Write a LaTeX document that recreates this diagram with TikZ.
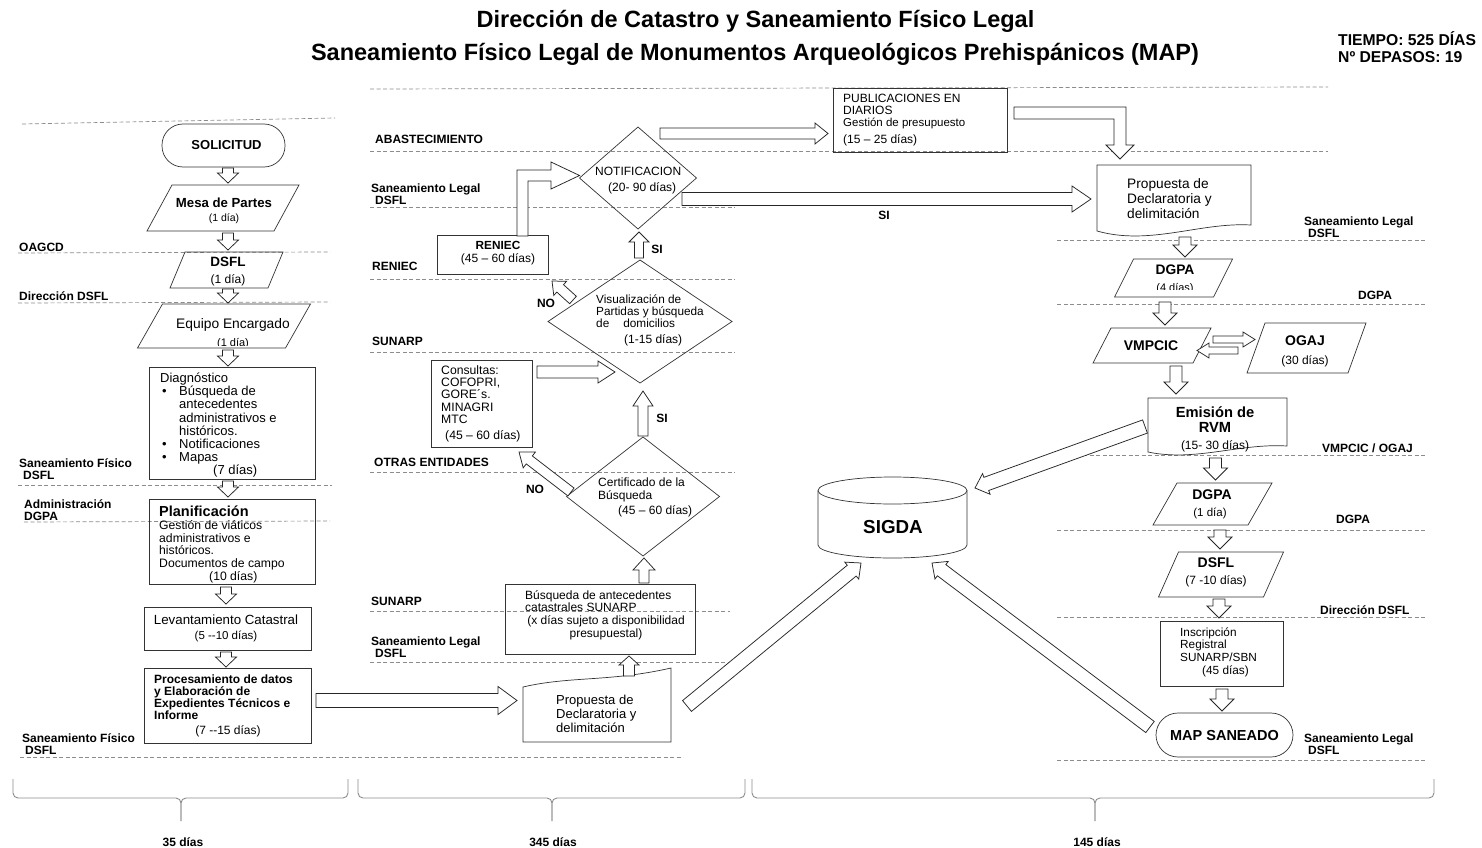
\documentclass[tikz,border=0pt]{standalone}
\usepackage{fontspec}
\setmainfont{Liberation Sans}
\usetikzlibrary{calc}
\newcommand\FS[2]{\fontsize{#1}{#2}\selectfont}
\tikzset{
  dl/.style={draw=black!45, line width=0.7pt, dash pattern=on 4pt off 2.5pt},
  bx/.style={draw=black!80, line width=0.7pt},
  ba/.style={draw=black!85, fill=white, line width=0.75pt, line join=miter},
  brc/.style={draw=black!45, line width=0.9pt, rounded corners=5pt},
  hid/.style={inner sep=0pt, outer sep=0pt},
  tl/.style={inner sep=0pt, anchor=north west, align=left},
  tn/.style={inner sep=0pt, anchor=north, align=center},
  tc/.style={inner sep=0pt, anchor=center, align=center},
  tw/.style={inner sep=0pt, anchor=west},
  lane/.style={inner sep=0pt, anchor=north west, align=left, font=\FS{12}{12}\bfseries},
  fb/.style={font=\FS{#1}{#1}\bfseries},
  fn/.style={font=\FS{#1}{#1}},
}
\newcommand\mkpara[6]{%
  \node[hid, minimum width=#4, minimum height=#5] (#1) at (#2,#3) {};
  \draw[bx] ($(#1.south west)+(-#6/2,0)$) -- ($(#1.south east)+(-#6/2,0)$) -- ($(#1.north east)+(#6/2,0)$) -- ($(#1.north west)+(#6/2,0)$) -- cycle;}
\newcommand\mkdiam[5]{%
  \node[hid, minimum width=#4, minimum height=#5] (#1) at (#2,#3) {};
  \draw[bx] (#1.north) -- (#1.east) -- (#1.south) -- (#1.west) -- cycle;}
\newcommand\blk[5]{%
  \coordinate (baA) at (#1);
  \coordinate (baB) at (#2);
  \coordinate (baQ) at ($(baB)!#5!(baA)$);
  \draw[ba] ($(baA)!#3!90:(baB)$) -- ($(baQ)!#3!90:(baB)$) -- ($(baQ)!#4!90:(baB)$) -- (baB) -- ($(baQ)!#4!-90:(baB)$) -- ($(baQ)!#3!-90:(baB)$) -- ($(baA)!#3!-90:(baB)$) -- cycle;}
\newcommand\vblk[2]{\blk{#1}{#2}{5.5pt}{10.5pt}{10pt}}
\newcommand\rblk[2]{\blk{#1}{#2}{6pt}{12pt}{12pt}}
\newcommand\mkbrace[3]{%
  \draw[brc] (#1,779) -- (#1,798) -- (#3,798) -- (#3,821);
  \draw[brc] (#2,779) -- (#2,798) -- (#3,798) -- (#3,821);}
\begin{document}
\begin{tikzpicture}[x=1pt,y=-1pt]
\useasboundingbox[fill=white] (0,0) rectangle (1482,848);
% ---------- titles
\node[tc, font=\FS{23.5}{26}\bfseries] (title1) at (755.5,21) {Dirección de Catastro y Saneamiento Físico Legal};
\node[tc, font=\FS{23.5}{26}\bfseries] (title2) at (755,54) {Saneamiento Físico Legal de Monumentos Arqueológicos Prehispánicos (MAP)};
\node[tl, font=\FS{15.7}{17}\bfseries] (tiempo) at (1338,31.5) {TIEMPO: 525 DÍAS\\Nº DEPASOS: 19};
% ---------- dashed lane lines
\draw[dl] (22,124) -- (335,118);
\draw[dl] (18,253) -- (330,252);
\draw[dl] (18,303) -- (330,302);
\draw[dl] (18,485) -- (332,485);
\draw[dl] (24,522) -- (330,521);
\draw[dl] (20,757) -- (683,757);
\draw[dl] (370,89) -- (1328,87);
\draw[dl] (370,151) -- (1328,151);
\draw[dl] (370,207) -- (735,207);
\draw[dl] (370,279) -- (735,279);
\draw[dl] (370,352) -- (735,352);
\draw[dl] (370,472) -- (735,472);
\draw[dl] (370,611) -- (730,611);
\draw[dl] (370,662) -- (730,662);
\draw[dl] (1057,240) -- (1425,240);
\draw[dl] (1057,304) -- (1425,304);
\draw[dl] (1057,455) -- (1425,455);
\draw[dl] (1057,530) -- (1425,530);
\draw[dl] (1057,617) -- (1425,617);
\draw[dl] (1057,760) -- (1425,760);
% ---------- lane labels
\node[lane] (la1) at (19,243.2) {OAGCD};
\node[lane] (la2) at (19,291.2) {Dirección DSFL};
\node[lane] (la3) at (19,458.2) {Saneamiento Físico\\\hspace*{4pt}DSFL};
\node[lane] (la4) at (24,499.2) {Administración\\DGPA};
\node[lane] (la5) at (22,733.2) {Saneamiento Físico\\\hspace*{3pt}DSFL};
\node[lane] (lb1) at (375,135.2) {ABASTECIMIENTO};
\node[lane] (lb2) at (371,183.2) {Saneamiento Legal\\\hspace*{4pt}DSFL};
\node[lane] (lb3) at (372,262.2) {RENIEC};
\node[lane] (lb4) at (372,337.2) {SUNARP};
\node[lane] (lb5) at (374,458.2) {OTRAS ENTIDADES};
\node[lane] (lb6) at (371,597.2) {SUNARP};
\node[lane] (lb7) at (371,636.2) {Saneamiento Legal\\\hspace*{4pt}DSFL};
\node[lane] (lc1) at (1304,216.2) {Saneamiento Legal\\\hspace*{4pt}DSFL};
\node[lane] (lc2) at (1358,291.2) {DGPA};
\node[lane] (lc3) at (1322,443.2) {VMPCIC / OGAJ};
\node[lane] (lc4) at (1336,515.2) {DGPA};
\node[lane] (lc5) at (1320,605.2) {Dirección DSFL};
\node[lane] (lc6) at (1304,733.2) {Saneamiento Legal\\\hspace*{4pt}DSFL};
% ---------- left column
\node[bx, hid, rounded corners=21pt, minimum width=123, minimum height=43, font=\FS{13}{15}\bfseries] (solicitud) at (223.5,145.5) {\hspace*{6pt}SOLICITUD};
\mkpara{mesa}{223}{208}{127}{46}{25}
\node[tc, fb=13.2] (mesat) at (224,203) {Mesa de Partes};
\node[tc, fn=10.5] (mesad) at (224,219) {(1 día)};
\mkpara{dsfl1}{226.5}{270}{98}{36}{15}
\node[tc, fb=13.5] (dsflat) at (228,262) {DSFL};
\node[tc, fn=12] (dsflad) at (228,280) {(1 día)};
\mkpara{equipo}{224}{326}{148}{44}{25}
\node[tc, fn=13.8] (equipot) at (233,325) {Equipo Encargado};
\begin{scope}
\clip (150,330) rectangle (300,345.6);
\node[tc, fn=11] (equipod) at (233,343.5) {(1 día)};
\end{scope}
\node[hid, bx, anchor=north west, minimum width=166, minimum height=112] (diag) at (149,367) {};
\node[tl, font=\FS{13}{13.2}] (diagt) at (160,372.8) {Diagnóstico\\
\makebox[19pt][l]{\hspace*{2pt}•}Búsqueda de\\
\hspace*{19pt}antecedentes\\
\hspace*{19pt}administrativos e\\
\hspace*{19pt}históricos.\\
\makebox[19pt][l]{\hspace*{2pt}•}Notificaciones\\
\makebox[19pt][l]{\hspace*{2pt}•}Mapas\\
\hspace*{53pt}(7 días)};
\node[hid, bx, anchor=north west, minimum width=166, minimum height=85] (plan) at (149,499) {};
\node[tl, fb=14.5] (plant) at (159,505.2) {Planificación};
\node[tl, font=\FS{12.2}{12.75}] (pland) at (159,520.2) {Gestión de viáticos\\administrativos e\\históricos.\\Documentos de campo\\\hspace*{50pt}(10 días)};
\node[hid, bx, anchor=north west, minimum width=167, minimum height=43] (lev) at (144,607) {};
\node[tc, fn=13.3] (levt) at (226,620) {Levantamiento Catastral};
\node[tc, fn=11.5] (levd) at (226,636) {(5 {-}{-}10 días)};
\node[hid, bx, anchor=north west, minimum width=167, minimum height=75] (proc) at (144,668) {};
\node[tl, font=\FS{12}{12}\bfseries] (proct) at (154,674.2) {Procesamiento de datos\\y Elaboración de\\Expedientes Técnicos e\\Informe};
\node[tc, fn=12] (procd) at (228,731) {(7 {-}{-}15 días)};
\vblk{$(solicitud.south)+(4.5,1)$}{$(mesa.north)+(5,-2)$}
\vblk{$(mesa.south)+(5,2)$}{$(dsfl1.north)+(1.5,-2)$}
\vblk{$(dsfl1.south)+(1.5,1)$}{$(equipo.north)+(4,-1)$}
\vblk{$(equipo.south)+(4,2)$}{$(diag.north)+(-4,-1)$}
\vblk{$(diag.south)+(-4,2)$}{$(plan.north)+(-4,-2)$}
\vblk{$(plan.south)+(-6,3)$}{$(lev.north)+(-1.5,-3)$}
\vblk{$(lev.south)+(-1.5,2)$}{$(proc.north)+(-1.5,-1)$}
% ---------- middle column
\node[hid, minimum width=148, minimum height=74] (prop1) at (597,705) {};
\draw[bx] (523,742) -- (523,687) .. controls (570,676) and (610,682) .. (671,668) -- (671,742) -- cycle;
\node[tl, font=\FS{13}{14}] (prop1t) at (556,694.8) {Propuesta de\\Declaratoria y\\delimitación};
\blk{$(proc.east)+(5,-5)$}{$(prop1.west)+(-6,-4.5)$}{7pt}{14pt}{19pt}
\node[hid, bx, anchor=north west, minimum width=190, minimum height=70] (busq) at (505,584) {};
\node[tl, font=\FS{12}{12.5}] (busqt) at (525,590.2) {Búsqueda de antecedentes\\catastrales SUNARP};
\node[tn, font=\FS{12}{12.8}] (busqd) at (606,615.2) {(x días sujeto a disponibilidad\\presupuestal)};
\blk{$(prop1.north)+(32,8)$}{$(busq.south)+(29,2)$}{5.5pt}{10pt}{9pt}
\mkdiam{cert}{643}{496.5}{153}{119}
\node[tl, font=\FS{12}{13}] (certt) at (598,477.2) {Certificado de la\\Búsqueda};
\node[tw, fn=12] (certd) at (618,511) {(45 – 60 días)};
\blk{$(busq.north)+(44,-1)$}{$(cert.south)+(1,2)$}{5pt}{11pt}{12pt}
\node[hid, bx, anchor=north west, minimum width=101, minimum height=87] (cons) at (431,360) {};
\node[tl, font=\FS{12.2}{12.3}] (const) at (441,365.2) {Consultas:\\COFOPRI,\\GORE´s.\\MINAGRI\\MTC\\[3.7pt]\hspace*{4pt}(45 – 60 días)};
\mkdiam{visual}{640}{321.5}{184}{123}
\node[tl, font=\FS{11.8}{12}] (visualt) at (596,294.3) {Visualización de\\Partidas y búsqueda\\de\hspace*{14pt}domicilios};
\node[tw, fn=12] (visuald) at (624,340) {(1-15 días)};
\blk{$(cons.east)+(5,-31.5)$}{$(visual.west)+(67,50.5)$}{6pt}{11pt}{17pt}
\blk{$(cert.north)+(0,-1)$}{$(visual.south)+(3,8)$}{5pt}{10pt}{15pt}
\node[tc, fb=12] (si2) at (662,418) {SI};
\blk{$(cert.west)+(4.5,-4.5)$}{$(cons.south east)+(-13,5)$}{5pt}{10pt}{13pt}
\node[tc, fb=12] (no2) at (535,489) {NO};
\node[hid, bx, anchor=north west, minimum width=111, minimum height=39] (reniec) at (437,235) {};
\node[tc, fb=11.8] (renieca) at (498,245) {RENIEC};
\node[tc, fn=12] (reniecb) at (498,259) {(45 – 60 días)};
\blk{$(visual.west)+(25,-21.5)$}{$(reniec.south east)+(4,7)$}{5pt}{9.5pt}{11pt}
\node[tc, fb=12] (no1) at (546,303) {NO};
\mkdiam{notif}{638}{178}{117}{102}
\node[tw, fn=12] (notift) at (595,171) {NOTIFICACION};
\node[tw, fn=12] (notifd) at (608,188) {(20- 90 días)};
\blk{$(visual.north)+(-1,-2)$}{$(notif.south)+(1,3)$}{4.5pt}{10pt}{10pt}
\node[tc, fb=12] (si1) at (657,249) {SI};
\draw[ba] ($(reniec.north)+(24.5,1)$) -- (517,170) -- (551,170) -- (551,162) -- ($(notif.west)+(0,-2.5)$) -- (551,189) -- (551,181) -- (528,181) -- ($(reniec.north)+(35.5,1)$) -- cycle;
\node[hid, bx, anchor=north west, minimum width=174, minimum height=64] (publ) at (833,88) {};
\node[tl, font=\FS{12}{12}] (publt) at (843,94.2) {PUBLICACIONES EN\\DIARIOS\\{\FS{11.5}{12}Gestión de presupuesto}\\[5pt](15 – 25 días)};
\blk{$(notif.north)+(22,6.5)$}{$(publ.west)+(-5,13.5)$}{5.5pt}{10.5pt}{13pt}
% ---------- right column
\node[hid, minimum width=154, minimum height=71] (prop2) at (1174,200.5) {};
\draw[bx] (1097,165) -- (1251,165) -- (1251,225) .. controls (1200,222) and (1150,246) .. (1097,231) -- cycle;
\node[tl, font=\FS{13.7}{15}] (prop2t) at (1127,178.5) {Propuesta de\\Declaratoria y\\delimitación};
\draw[ba] ($(publ.east)+(7,-13)$) -- (1126,107) -- (1126,145) -- (1134,145) -- ($(prop2.north)+(-54,-6)$) -- (1106,145) -- (1114,145) -- (1114,119) -- ($(publ.east)+(7,-1)$) -- cycle;
\blk{$(notif.east)+(-14.5,21)$}{$(prop2.west)+(-6,-1.5)$}{6.5pt}{13pt}{19pt}
\node[tc, fb=12] (si3) at (884,215) {SI};
\mkpara{dgpa}{1173.5}{278}{99}{38}{19}
\node[tc, fb=13.8] (dgpat) at (1175,270) {DGPA};
\begin{scope}
\clip (1120,280) rectangle (1230,289.3);
\node[tc, fn=11] (dgpad) at (1175,288.5) {(4 días)};
\end{scope}
\rblk{$(prop2.south)+(11,1)$}{$(dgpa.north)+(11.5,-2)$}
\mkpara{vmpcic}{1152}{345.5}{100}{35}{18}
\node[tc, fb=14] (vmpcict) at (1151,346) {VMPCIC};
\rblk{$(dgpa.south)+(-8.5,5)$}{$(vmpcic.north)+(13,-3)$}
\mkpara{ogaj}{1306.5}{348}{101}{50}{18}
\node[tc, fb=14] (ogajt) at (1305,341) {OGAJ};
\node[tc, fn=12] (ogajd) at (1305,361) {(30 días)};
\blk{$(vmpcic.east)+(11,-6)$}{$(ogaj.west)+(-1,-8.5)$}{3.5pt}{7.5pt}{12pt}
\blk{$(ogaj.west)+(-18,2.5)$}{$(vmpcic.east)+(-5,5)$}{3.5pt}{7.5pt}{12pt}
\node[hid, minimum width=139, minimum height=57] (emision) at (1217.5,426.5) {};
\draw[bx] (1148,398) -- (1287,398) -- (1287,446) .. controls (1240,443) and (1195,462) .. (1148,452) -- cycle;
\node[tn, font=\FS{14.7}{14.5}\bfseries] (emisiont) at (1215,407) {Emisión de\\RVM};
\node[tc, fn=12] (emisiond) at (1215,446) {(15- 30 días)};
\rblk{$(vmpcic.south)+(24,3)$}{$(emision.north)+(-41.5,-4)$}
\mkpara{dgpb}{1212.5}{504}{95}{42}{24}
\node[tc, fb=14] (dgpbt) at (1212,495) {DGPA};
\node[tc, fn=11.5] (dgpbd) at (1210,513) {(1 día)};
\rblk{$(emision.south)+(-2,3)$}{$(dgpb.north)+(3,-3)$}
\mkpara{dsflb}{1221}{574.5}{105}{45}{20}
\node[tc, fb=14] (dsflbt) at (1216,563) {DSFL};
\node[tc, fn=12] (dsflbd) at (1216,581) {(7 -10 días)};
\rblk{$(dgpb.south)+(7.5,5)$}{$(dsflb.north)+(-1,-3)$}
\node[hid, bx, anchor=north west, minimum width=123, minimum height=65] (insc) at (1160,621) {};
\node[tl, font=\FS{11.8}{12.7}] (insct) at (1180,627.3) {Inscripción\\Registral\\SUNARP/SBN\\\hspace*{22pt}(45 días)};
\rblk{$(dsflb.south)+(-2,2)$}{$(insc.north)+(-2.5,-3)$}
\node[bx, hid, rounded corners=22pt, minimum width=137, minimum height=44, font=\FS{14.5}{16}\bfseries] (map) at (1224.5,735) {MAP SANEADO};
\rblk{$(insc.south)+(0.5,3)$}{$(map.north)+(-2.5,-2)$}
% ---------- SIGDA
\node[hid, font=\FS{18.8}{20}\bfseries] (sigda) at (893,527) {SIGDA};
\draw[bx] (818,490.5) -- (818,545) arc[start angle=180, end angle=360, x radius=74.5pt, y radius=13pt] -- (967,490.5);
\draw[bx] (892.5,490.5) ellipse [x radius=74.5pt, y radius=13.5pt];
\blk{$(prop1.east)+(16,1)$}{$(sigda)+(-32,36)$}{7pt}{11pt}{12pt}
\blk{$(map.west)+(-6,-8)$}{$(sigda)+(39,36)$}{7pt}{11pt}{12pt}
\blk{$(emision.west)+(-3,0)$}{$(sigda)+(82,-39)$}{7pt}{11pt}{12pt}
% ---------- braces
\mkbrace{13}{348}{181}
\mkbrace{358}{745}{552}
\mkbrace{752}{1434}{1095}
\node[tc, fb=12] (d1) at (183,842) {35 días};
\node[tc, fb=12] (d2) at (553,842) {345 días};
\node[tc, fb=12] (d3) at (1097,842) {145 días};
\end{tikzpicture}
\end{document}
